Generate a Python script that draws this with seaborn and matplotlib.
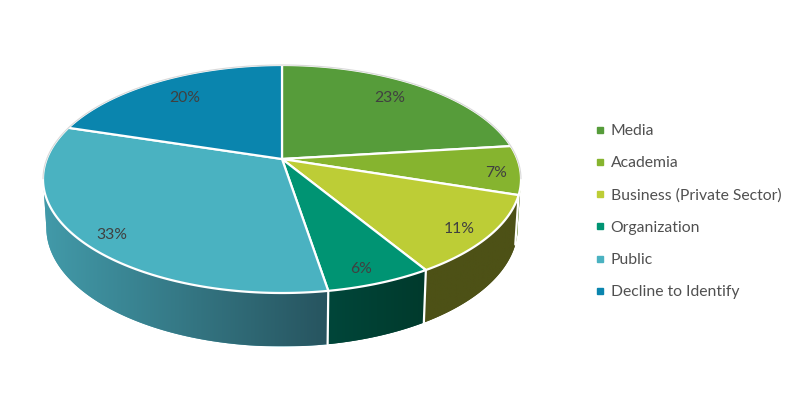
import numpy as np
import matplotlib
matplotlib.use("Agg")
import matplotlib.pyplot as plt
from matplotlib.lines import Line2D
from matplotlib.colors import ListedColormap
import seaborn as sns

categories = ["Media", "Academia", "Business (Private Sector)", "Organization", "Public", "Decline to Identify"]
values = [23.1, 6.9, 11.3, 6.1, 32.4, 20.2]
labels = ["23%", "7%", "11%", "6%", "33%", "20%"]
colors = ["#569C3A", "#86B42F", "#BDCD36", "#009473", "#4AB2C1", "#0A85AE"]
# rim colours, left end then right end
side_colors = [("#3E6F29", "#3E6F29"), ("#5A7A1E", "#5A7A1E"), ("#4D5116", "#4D5116"),
               ("#00463A", "#003A2C"), ("#429AA9", "#27545F"), ("#0A85AE", "#0A85AE")]

# where the percent labels sit, in pixels
label_x = [390, 496, 459, 361, 112, 185]
label_y = [98, 173, 229, 269, 235, 98]

sns.set_theme(style="white")
plt.rcParams["font.family"] = ["Lato", "DejaVu Sans"]
text_color = "#404040"

fig, ax = plt.subplots(figsize=(7.92, 4.04), dpi=100)
ax.set_position([0, 0, 1, 1])
ax.axis("off")

K = 0.1754


def top_xy(t):
    u, v = np.sin(t), np.cos(t)
    d = 1 + K * v
    return 282 + 235.3 * u / d, 159 - 110.5 * v / d


def bottom_xy(t):
    u, v = np.sin(t), np.cos(t)
    d = 1 + K * v
    return 282 + 232 * u / d, 207 - 115 * v / d


edges = np.radians(np.concatenate([[0], np.cumsum(values)]) / sum(values) * 360)
rim_a, rim_b = np.radians(100), np.radians(260)

# rim first, top face goes over it
for i in range(len(values)):
    a, b = max(edges[i], rim_a), min(edges[i + 1], rim_b)
    if b <= a:
        continue
    t = np.linspace(a, b, 80)
    x0, y0 = top_xy(t)
    x1, y1 = bottom_xy(t)
    px, py = np.r_[x0, x1[::-1]], np.r_[y0, y1[::-1]]
    patch = ax.fill(px, py, color=side_colors[i][0], lw=0, zorder=2)[0]
    # gradient runs across the rim, clipped to the rim shape
    cmap = ListedColormap(sns.blend_palette(side_colors[i], 128))
    im = ax.imshow(np.linspace(0, 1, 128)[None, :], cmap=cmap, aspect="auto", zorder=2,
                   extent=[px.min(), px.max(), py.max(), py.min()])
    im.set_clip_path(patch)
    if rim_a < edges[i] < rim_b:
        xa, ya = top_xy(edges[i])
        xb, yb = bottom_xy(edges[i])
        ax.plot([xa, xb], [ya, yb], color="white", lw=1.6, zorder=3)

# top face
for i in range(len(values)):
    t = np.linspace(edges[i], edges[i + 1], 120)
    x, y = top_xy(t)
    ax.fill(np.r_[282, x], np.r_[159, y], facecolor=colors[i], edgecolor="white", lw=1.6,
            joinstyle="round", zorder=4)

# faint grey line round the back of the disc
t = np.linspace(-np.radians(100), np.radians(100), 300)
x, y = top_xy(t)
ax.plot(x, y, color="#D9D9D9", lw=0.8, zorder=5)

for lx, ly, s in zip(label_x, label_y, labels):
    ax.text(lx, ly, s, ha="center", va="center", fontsize=11.3, color=text_color, zorder=6)

ax.set_xlim(0, 792)
ax.set_ylim(404, 0)

handles = [Line2D([], [], ls="none", marker="s", ms=4.4, color=c) for c in colors]
ax.legend(handles, categories, loc="upper left", bbox_to_anchor=(595 / 792, 1 - 124 / 404),
          frameon=False, fontsize=11.3, labelcolor="#505050", labelspacing=1.16,
          handlelength=0.6, handletextpad=0.4, borderpad=0, borderaxespad=0)

fig.savefig("out.png", dpi=100)
